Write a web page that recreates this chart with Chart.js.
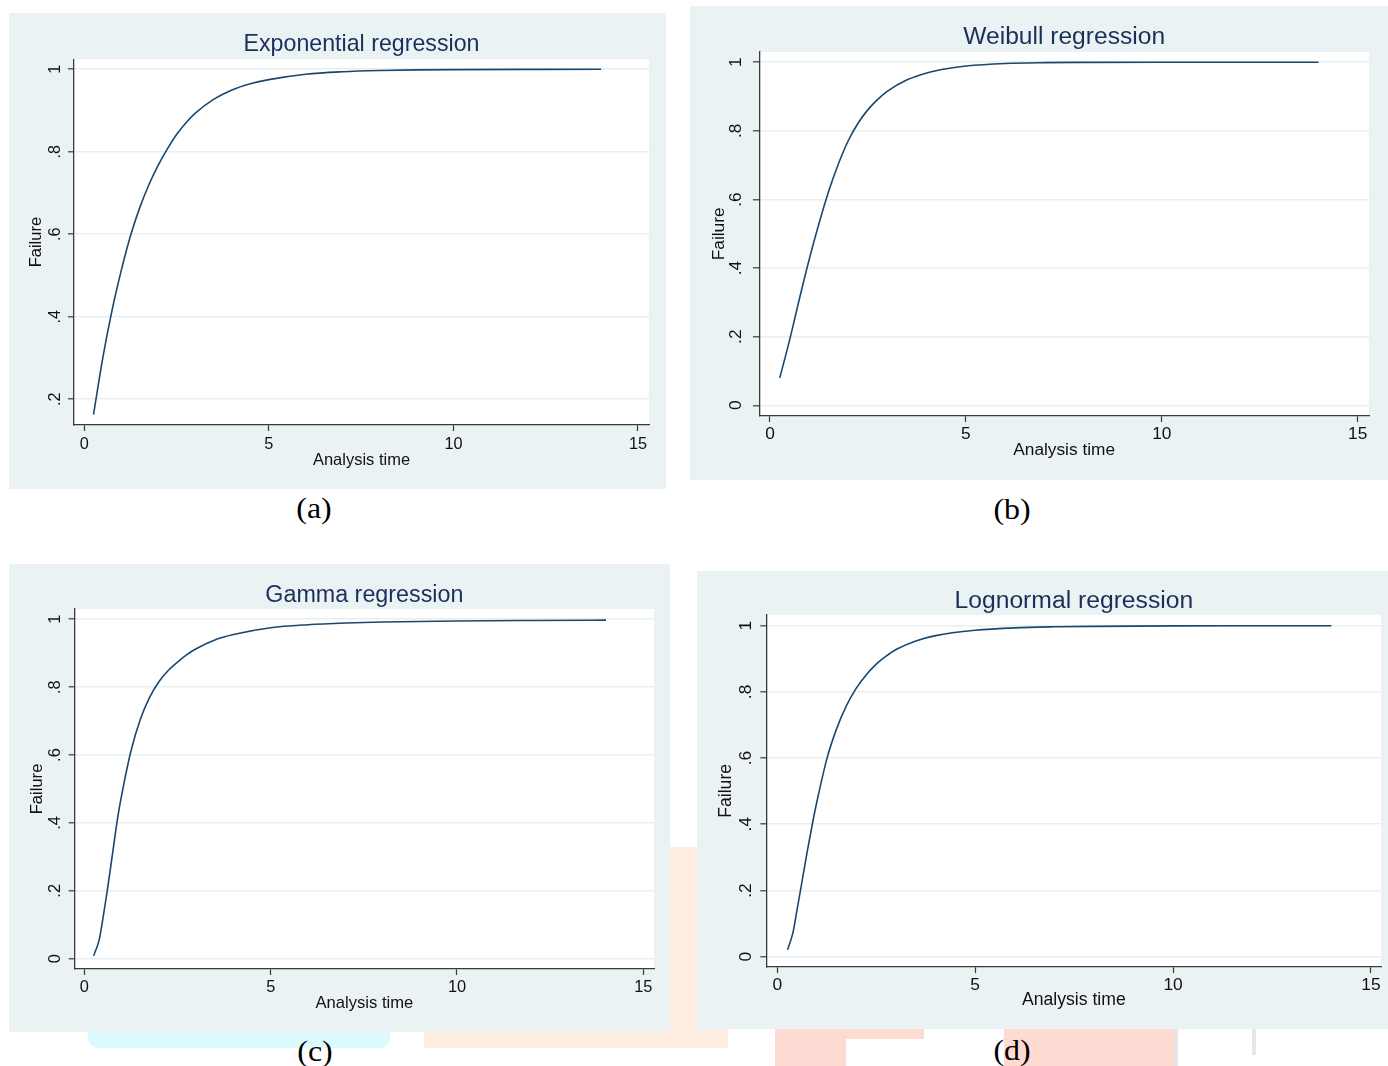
<!DOCTYPE html>
<html>
<head>
<meta charset="utf-8">
<script src="https://cdn.jsdelivr.net/npm/chart.js@4.4.1/dist/chart.umd.min.js"></script>
<style>
html,body{margin:0;padding:0;background:#fff;}
#page{position:relative;width:1388px;height:1066px;overflow:hidden;background:#fff;}
canvas{position:absolute;background:#eaf2f3;}
.cap{position:absolute;width:80px;text-align:center;font-family:"Liberation Serif","Times New Roman",serif;font-size:28.5px;line-height:34px;color:#000;transform:scaleX(1.12);}
.wm{position:absolute;}
</style>
</head>
<body>
<div id="page">
  <div class="wm" style="left:88px;top:1025px;width:302px;height:23px;background:#dafafd;border-radius:0 0 10px 10px;"></div>
  <div class="wm" style="left:424px;top:1025px;width:304px;height:23px;background:#feeee1;"></div>
  <div class="wm" style="left:669px;top:847px;width:30px;height:185px;background:#feece0;"></div>
  <div class="wm" style="left:775px;top:1025px;width:71px;height:41px;background:#fddbd3;"></div>
  <div class="wm" style="left:832px;top:1025px;width:92px;height:14px;background:#fddbd3;"></div>
  <div class="wm" style="left:1004px;top:1025px;width:172px;height:41px;background:#fddbd3;"></div>
  <div class="wm" style="left:1174px;top:1025px;width:4px;height:41px;background:#e6e6e6;"></div>
  <div class="wm" style="left:1252px;top:1025px;width:4px;height:30px;background:#e6e6e6;"></div>

  <canvas id="cA"></canvas>
  <canvas id="cB"></canvas>
  <canvas id="cC"></canvas>
  <canvas id="cD"></canvas>

  <div class="cap" style="left:274px;top:492px;">(a)</div>
  <div class="cap" style="left:972px;top:493px;">(b)</div>
  <div class="cap" style="left:275px;top:1035px;">(c)</div>
  <div class="cap" style="left:972px;top:1034px;">(d)</div>
</div>
<script>
// ---- data ----
const xTicks = [0, 5, 10, 15];
const xTickLabels = ['0', '5', '10', '15'];
const yTicksA = [0.2, 0.4, 0.6, 0.8, 1];
const yTickLabelsA = ['.2', '.4', '.6', '.8', '1'];
const yTicksB = [0, 0.2, 0.4, 0.6, 0.8, 1];
const yTickLabelsB = ['0', '.2', '.4', '.6', '.8', '1'];

const timeExp = [0.25, 0.5, 0.75, 1, 1.25, 1.5, 1.75, 2, 2.25, 2.5, 2.75, 3, 3.5, 4, 4.5, 5, 6, 7, 8, 9, 10, 12, 14];
const failExp = [0.163, 0.30, 0.415, 0.512, 0.596, 0.664, 0.72, 0.767, 0.807, 0.842, 0.87, 0.893, 0.927, 0.95, 0.965, 0.975, 0.988, 0.994, 0.997, 0.9985, 0.9992, 0.9998, 1.0];

const timeWei = [0.25, 0.5, 0.75, 1, 1.25, 1.5, 1.75, 2, 2.25, 2.5, 2.75, 3, 3.5, 4, 4.5, 5, 6, 7, 8, 10, 12, 14];
const failWei = [0.08, 0.19, 0.31, 0.425, 0.53, 0.625, 0.705, 0.772, 0.823, 0.862, 0.892, 0.916, 0.949, 0.969, 0.981, 0.989, 0.9965, 0.999, 0.9997, 1, 1, 1];

const timeGam = [0.25, 0.4, 0.5, 0.6, 0.75, 0.9, 1, 1.25, 1.5, 1.75, 2, 2.25, 2.5, 2.75, 3, 3.5, 4, 5, 6, 7, 8, 10, 12, 14];
const failGam = [0.009, 0.057, 0.12, 0.19, 0.305, 0.42, 0.482, 0.612, 0.705, 0.77, 0.816, 0.849, 0.874, 0.896, 0.913, 0.939, 0.955, 0.975, 0.984, 0.989, 0.992, 0.995, 0.9965, 0.9975];

const timeLog = [0.26, 0.4, 0.5, 0.6, 0.75, 0.9, 1, 1.25, 1.5, 1.75, 2, 2.25, 2.5, 2.75, 3, 3.5, 4, 5, 6, 7, 8, 10, 12, 14];
const failLog = [0.021, 0.075, 0.143, 0.21, 0.314, 0.41, 0.468, 0.597, 0.689, 0.759, 0.812, 0.852, 0.884, 0.908, 0.928, 0.954, 0.97, 0.986, 0.9935, 0.9966, 0.998, 0.9993, 0.9997, 0.9999];

// ---- styles ----
const FONT = '"Liberation Sans", Arial, Helvetica, sans-serif';
const LINE = '#1a476f';
const TITLE = '#1c2f5a';
const TXT = '#111111';
const AXIS = '#3a3a3a';
const GRID = '#e6eff1';

const whiteArea = {
  id: 'whiteArea',
  beforeDraw(chart) {
    const a = chart.chartArea, ctx = chart.ctx;
    ctx.save();
    ctx.fillStyle = '#ffffff';
    ctx.fillRect(a.left, a.top, a.right - a.left, a.bottom - a.top);
    ctx.restore();
  }
};

const panels = [
  {id:'cA', title:'Exponential regression', t:timeExp, f:failExp, yTicks:yTicksA, yLabels:yTickLabelsA,
   box:[9,13,657,476], yW:65, xH:64, padR:17, xr:[-0.279,15.298], yr:[0.1377,1.0242],
   titleFont:23.2, titlePT:20, titlePB:3.1, tickFont:16.3, tl:6, yLabPad:5.4, xLabPad:3.4,
   axisFont:16.5, yTitlePad:18, xTitlePad:18.2},
  {id:'cB', title:'Weibull regression', t:timeWei, f:failWei, yTicks:yTicksB, yLabels:yTickLabelsB,
   box:[690,6,698,474], yW:69.3, xH:64.3, padR:19, xr:[-0.273,15.288], yr:[-0.0303,1.030],
   titleFont:24.6, titlePT:19.1, titlePB:2.3, tickFont:17.3, tl:6.4, yLabPad:9.4, xLabPad:2.0,
   axisFont:17.3, yTitlePad:18.5, xTitlePad:19},
  {id:'cC', title:'Gamma regression', t:timeGam, f:failGam, yTicks:yTicksB, yLabels:yTickLabelsB,
   box:[9,564,661,468], yW:65.7, xH:63, padR:16, xr:[-0.26,15.287], yr:[-0.0303,1.0303],
   titleFont:23.3, titlePT:19.65, titlePB:2.05, tickFont:16.4, tl:6, yLabPad:6.66, xLabPad:2.66,
   axisFont:16.6, yTitlePad:18, xTitlePad:18.3},
  {id:'cD', title:'Lognormal regression', t:timeLog, f:failLog, yTicks:yTicksB, yLabels:yTickLabelsB,
   box:[697,571,691,458], yW:69.7, xH:62.3, padR:7, xr:[-0.268,15.253], yr:[-0.0302,1.0323],
   titleFont:24.7, titlePT:17.65, titlePB:1.65, tickFont:17.4, tl:6.4, yLabPad:7.24, xLabPad:1.96,
   axisFont:17.6, yTitlePad:19, xTitlePad:17.8}
];

function buildPanel(p) {
  const cv = document.getElementById(p.id);
  const [L, T, W, H] = p.box;
  cv.width = W; cv.height = H;
  cv.style.left = L + 'px'; cv.style.top = T + 'px';
  cv.style.width = W + 'px'; cv.style.height = H + 'px';
  const pts = p.t.map((t, i) => ({x: t, y: p.f[i]}));
  return new Chart(cv.getContext('2d'), {
    type: 'line',
    data: {datasets: [{data: pts, borderColor: LINE, borderWidth: 1.6, pointRadius: 0, fill: false,
      cubicInterpolationMode: 'monotone'}]},
    options: {
      responsive: false, animation: false, events: [],
      layout: {padding: {left: 0, top: 0, right: p.padR, bottom: 0}},
      plugins: {
        legend: {display: false}, tooltip: {enabled: false},
        title: {display: true, text: p.title, fullSize: false, color: TITLE,
          font: {family: FONT, size: p.titleFont, weight: 'normal', lineHeight: 1.0},
          padding: {top: p.titlePT, bottom: p.titlePB}}
      },
      scales: {
        x: {
          type: 'linear', min: p.xr[0], max: p.xr[1],
          afterBuildTicks: s => { s.ticks = xTicks.map(v => ({value: v})); },
          afterFit: s => { s.height = p.xH; },
          ticks: {callback: (v, i) => xTickLabels[i], font: {family: FONT, size: p.tickFont, lineHeight: 1.2},
            color: TXT, padding: p.xLabPad, minRotation: 0, maxRotation: 0, autoSkip: false},
          grid: {display: true, drawOnChartArea: false, drawTicks: true, tickLength: p.tl, tickColor: AXIS, tickWidth: 1.2},
          border: {display: true, color: AXIS, width: 1.3},
          title: {display: true, text: 'Analysis time', color: TXT,
            font: {family: FONT, size: p.axisFont, lineHeight: 1.2}, padding: {top: 0, bottom: p.xTitlePad}}
        },
        y: {
          type: 'linear', min: p.yr[0], max: p.yr[1],
          afterBuildTicks: s => { s.ticks = p.yTicks.map(v => ({value: v})); },
          afterFit: s => { s.width = p.yW; },
          ticks: {callback: (v, i) => p.yLabels[i], font: {family: FONT, size: p.tickFont, lineHeight: 1.2},
            color: TXT, padding: p.yLabPad, minRotation: 90, maxRotation: 90, crossAlign: 'center', autoSkip: false},
          grid: {display: true, drawOnChartArea: true, color: GRID, lineWidth: 1.6, drawTicks: true,
            tickLength: p.tl, tickColor: AXIS, tickWidth: 1.2},
          border: {display: true, color: AXIS, width: 1.3},
          title: {display: true, text: 'Failure', color: TXT,
            font: {family: FONT, size: p.axisFont, lineHeight: 1.2}, padding: {top: p.yTitlePad, bottom: 0}}
        }
      }
    },
    plugins: [whiteArea]
  });
}

panels.forEach(buildPanel);
</script>
</body>
</html>
